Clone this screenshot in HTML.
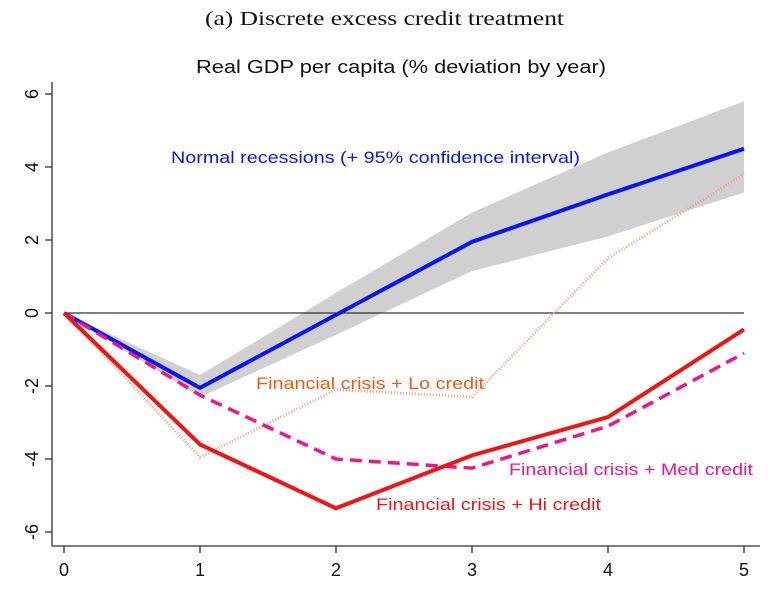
<!DOCTYPE html>
<html><head><meta charset="utf-8"><style>
body{margin:0;background:#fff;width:768px;height:600px;overflow:hidden}
svg{display:block}
</style></head><body>
<svg id="c" width="768" height="600">
<text x="205" y="25" textLength="359" lengthAdjust="spacingAndGlyphs" font-family="Liberation Serif, serif" font-size="20" fill="#111">(a) Discrete excess credit treatment</text>
<text x="196" y="73" textLength="410" lengthAdjust="spacingAndGlyphs" font-family="Liberation Sans, sans-serif" font-size="18" fill="#111">Real GDP per capita (% deviation by year)</text>
<g id="plot"></g>
</svg>
<script>
const years=[0,1,2,3,4,5];
const yTicks=[-6,-4,-2,0,2,4,6];
const normal=[0,-2.05,-0.05,1.95,3.25,4.5];
const ciUpper=[0,-1.7,0.55,2.75,4.4,5.8];
const ciLower=[0,-2.3,-0.6,1.15,2.1,3.3];
const hiCredit=[0,-3.6,-5.35,-3.9,-2.85,-0.45];
const medCredit=[0,-2.25,-4.0,-4.25,-3.1,-1.1];
const loCredit=[0,-3.95,-2.1,-2.3,1.5,3.8];
const NS='http://www.w3.org/2000/svg';
const g=document.getElementById('plot');
const X=v=>64+v*136;
const Y=v=>313-v*36.5;
function mk(t,a){const e=document.createElementNS(NS,t);for(const k in a)e.setAttribute(k,a[k]);g.appendChild(e);return e;}
const pts=arr=>arr.map((v,i)=>X(years[i])+','+Y(v)).join(' ');
let band=mk('polygon',{points:pts(ciUpper)+' '+ciLower.map((v,i)=>X(years[i])+','+Y(v)).reverse().join(' '),fill:'#d0d0d0'});


let ax=mk('path',{d:'M52,82 V546 H760',stroke:'#333','stroke-width':1.3,fill:'none'});


let zl=mk('line',{x1:X(0),x2:X(5),y1:Y(0),y2:Y(0),stroke:'#333','stroke-width':1.3});


yTicks.forEach(t=>{
 let l=mk('line',{x1:45,x2:52,y1:Y(t),y2:Y(t),stroke:'#333','stroke-width':1.3});
 
 
 let tx=mk('text',{x:0,y:0,transform:`translate(38,${Y(t)}) rotate(-90)`,'text-anchor':'middle','font-family':'Liberation Sans, sans-serif','font-size':18,fill:'#111'});
 tx.textContent=t;
 
 
});
years.forEach(t=>{
 let l=mk('line',{x1:X(t),x2:X(t),y1:546,y2:553,stroke:'#333','stroke-width':1.3});
 
 
 let tx=mk('text',{x:X(t),y:576,'text-anchor':'middle','font-family':'Liberation Sans, sans-serif','font-size':18,fill:'#111'});
 tx.textContent=t;
 
 
});
let lo=mk('polyline',{points:pts(loCredit),fill:'none',stroke:'#f4a080','stroke-width':3,'stroke-dasharray':'1 2'});


let bl=mk('polyline',{points:pts(normal),fill:'none',stroke:'#0a14f0','stroke-width':4});


let md=mk('polyline',{points:pts(medCredit),fill:'none',stroke:'#f0148c','stroke-width':3.5,'stroke-dasharray':'12 7'});


let hi=mk('polyline',{points:pts(hiCredit),fill:'none',stroke:'#f01414','stroke-width':4});


function lab(x,y,w,s,c,n){let t=mk('text',{x:x,y:y,textLength:w,lengthAdjust:'spacingAndGlyphs','font-family':'Liberation Sans, sans-serif','font-size':17,fill:c});t.textContent=s;}
lab(171,163,409,'Normal recessions (+ 95% confidence interval)','#0a14f0','normal-label');
lab(256,389,228,'Financial crisis + Lo credit','#f05a14','lo-credit-label');
lab(509,475,244,'Financial crisis + Med credit','#f0148c','med-credit-label');
lab(376,510,225,'Financial crisis + Hi credit','#f01414','hi-credit-label');
</script>
</body></html>
